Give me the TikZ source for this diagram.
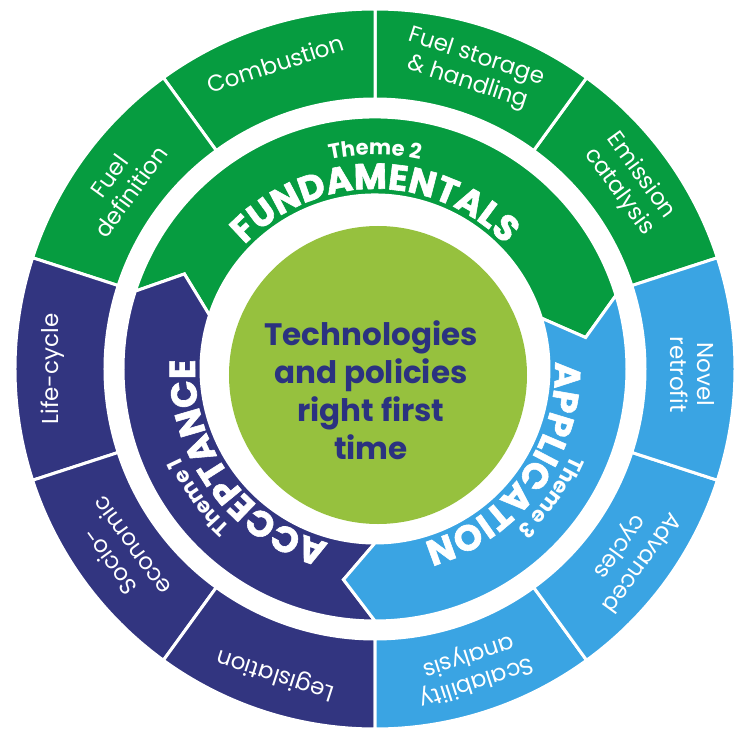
\documentclass[tikz,border=0pt]{standalone}
\usepackage{fontspec}
\setmainfont{Poppins}
\newfontfamily\heavyfont{Poppins}[FakeBold=1.6, UprightFont=*-Bold]
\usetikzlibrary{decorations.text}
\definecolor{fgreen}{RGB}{6,156,64}
\definecolor{fnavy}{RGB}{50,53,128}
\definecolor{fblue}{RGB}{58,164,227}
\definecolor{flime}{RGB}{150,193,62}
\definecolor{ftext}{RGB}{43,50,128}
\tikzset{
  seg/.style={draw=white, line width=3pt, line join=miter},
  olabel/.style={text=white, font=\fontsize{23}{27}\selectfont, align=center, inner sep=0pt},
  ctext/.style={text=ftext, font=\fontsize{31}{38}\bfseries\selectfont, align=center, inner sep=0pt},
}
\newcommand{\ringseg}[3]{% start angle, end angle, colour
  \fill[#3, seg] (#1:360) arc[start angle=#1, end angle=#2, radius=360]
    -- (#2:270) arc[start angle=#2, end angle=#1, radius=270] -- cycle;}
\newcommand{\arctext}[5]{% centre angle, radius, size, text, half span
  \path[decorate, decoration={text along path, text align=center, text color=white,
    text={|\fontsize{#3}{#3}\bfseries\selectfont|#4}}]
    ({#1+#5}:#2) arc[start angle={#1+#5}, end angle={#1-#5}, radius=#2];}
\newcommand{\archeavy}[5]{% centre angle, radius, size, text, half span
  \path[decorate, decoration={text along path, text align=center, text color=white,
    text={|\heavyfont\fontsize{#3}{#3}\selectfont|#4}}]
    ({#1+#5}:#2) arc[start angle={#1+#5}, end angle={#1-#5}, radius=#2];}
\begin{document}
\begin{tikzpicture}[x=1pt,y=1pt]
\useasboundingbox (-375,-365) rectangle (361,369);
% outer ring
\ringseg{18}{54}{fgreen}
\ringseg{54}{90}{fgreen}
\ringseg{90}{126}{fgreen}
\ringseg{126}{162}{fgreen}
\ringseg{162}{198}{fnavy}
\ringseg{198}{234}{fnavy}
\ringseg{234}{270}{fnavy}
\ringseg{270}{306}{fblue}
\ringseg{306}{342}{fblue}
\ringseg{342}{378}{fblue}
% theme ring
\fill[fgreen, seg] (162:252) arc[start angle=162, end angle=17, radius=252]
  -- (8.5:213) -- (17:174) arc[start angle=17, end angle=162, radius=174]
  -- (153.5:213) -- cycle;
\fill[fnavy, seg] (270:252) arc[start angle=270, end angle=162, radius=252]
  -- (153.5:213) -- (162:174) arc[start angle=162, end angle=270, radius=174]
  -- (261.5:213) -- cycle;
\fill[fblue, seg] (377:252) arc[start angle=377, end angle=270, radius=252]
  -- (261.5:213) -- (270:174) arc[start angle=270, end angle=377, radius=174]
  -- (8.5:213) -- cycle;
% centre
\fill[flime] (3,-6) circle[radius=149];
\node[ctext] (centre) at (-4,-21) {Technologies\\and policies\\right first\\time};
% theme texts
\arctext{90}{214}{21}{Theme 2}{60}
\archeavy{90}{180}{36}{FUNDAMENTALS}{70}
\arctext{216}{214}{21}{Theme 1}{50}
\archeavy{216}{180}{36}{ACCEPTANCE}{52}
\arctext{-36}{214}{21}{Theme 3}{50}
\archeavy{-36}{180}{36}{APPLICATION}{52}
% outer labels
\node[olabel, rotate=54] (l1) at (144:315) {Fuel\\definition};
\node[olabel, rotate=18] (l2) at (108:321) {Combustion};
\node[olabel, rotate=-18] (l3) at (72:314) {Fuel storage\\\& handling};
\node[olabel, rotate=-54] (l4) at (36:315) {Emission\\catalysis};
\node[olabel, rotate=-90] (l5) at (-1:317) {Novel\\retrofit};
\node[olabel, rotate=234] (l6) at (324:315) {Advanced\\cycles};
\node[olabel, rotate=198] (l7) at (288:315) {Scalability\\analysis};
\node[olabel, rotate=162] (l8) at (252:321) {Legislation};
\node[olabel, rotate=126] (l9) at (216:315) {Socio-\\economic};
\node[olabel, rotate=90] (l10) at (180:322) {Life-cycle};
\end{tikzpicture}
\end{document}
